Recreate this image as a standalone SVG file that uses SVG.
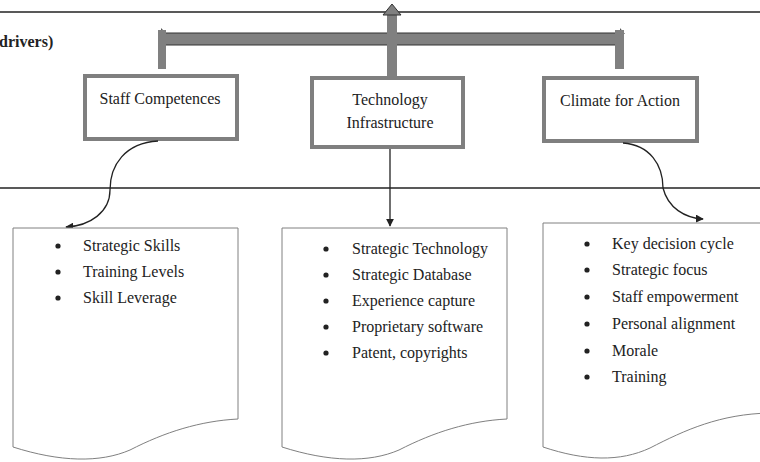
<svg xmlns="http://www.w3.org/2000/svg" width="760" height="462" viewBox="0 0 760 462">
<style>
text{font-family:"Liberation Serif","Times New Roman",serif;font-size:16px;fill:#222}
.box{fill:#fff;stroke:#7f7f7f;stroke-width:4}
.doc{fill:#fff;stroke:#808080;stroke-width:1}
.con{fill:none;stroke:#222;stroke-width:1.3}
.gray{fill:#808080}
.b{fill:#222}
</style>
<defs>
<marker id="ah" viewBox="0 0 10 10" refX="9" refY="5" markerWidth="8" markerHeight="8" markerUnits="userSpaceOnUse" orient="auto">
<path d="M0,0 L10,5 L0,10 z" fill="#222"/>
</marker>
</defs>
<rect width="760" height="462" fill="#fff"/>
<line x1="0" y1="12" x2="760" y2="12" stroke="#222" stroke-width="1.5"/>
<line x1="0" y1="188" x2="760" y2="188" stroke="#222" stroke-width="1.5"/>
<text x="-1" y="47" style="font-weight:bold">drivers)</text>

<g id="arrows-top">
<rect x="162" y="33" width="458" height="12" fill="#808080" stroke="#333" stroke-width="1"/>
<polygon points="161,28 166,33 161,33" fill="#555"/>
<polygon points="620,28 625,34 620,34" fill="#555"/>
<rect x="158" y="30" width="8" height="39" class="gray"/>
<rect x="615" y="30" width="9" height="39" class="gray"/>
<rect x="387" y="14" width="10" height="62" class="gray"/>
<polygon points="383,15 392,4 401,15" fill="#808080" stroke="#333" stroke-width="1"/>
</g>

<g id="node-staff">
<rect x="85" y="76" width="152" height="63" class="box"/>
<text x="160" y="104" text-anchor="middle">Staff Competences</text>
</g>
<g id="node-tech">
<rect x="312" y="78" width="151" height="69" class="box"/>
<text x="390" y="105" text-anchor="middle">Technology</text>
<text x="390" y="128" text-anchor="middle">Infrastructure</text>
</g>
<g id="node-climate">
<rect x="544" y="78" width="153" height="63" class="box"/>
<text x="620" y="106" text-anchor="middle">Climate for Action</text>
</g>

<g id="connectors">
<path class="con" d="M158,141 C125,143 110,165 110,190 C110,212 90,226 66,227" marker-end="url(#ah)"/>
<path class="con" d="M390,149 L390,226" marker-end="url(#ah)"/>
<path class="con" d="M623,143 C650,145 663,165 663,188 C668,208 685,218 703,219" marker-end="url(#ah)"/>
</g>

<g id="doc-staff">
<path class="doc" d="M13,228 L238,228 L238,419 C200,421 165,432 130,450 C100,463 60,462 13,447 Z"/>
<circle cx="58" cy="246" r="2.6" class="b"/><text x="83" y="251">Strategic Skills</text>
<circle cx="58" cy="272" r="2.6" class="b"/><text x="83" y="277">Training Levels</text>
<circle cx="58" cy="298" r="2.6" class="b"/><text x="83" y="303">Skill Leverage</text>
</g>
<g id="doc-tech">
<path class="doc" d="M282,228 L507,228 L507,419 C469,421 434,432 399,450 C369,463 329,462 282,447 Z"/>
<circle cx="326" cy="249" r="2.6" class="b"/><text x="352" y="254">Strategic Technology</text>
<circle cx="326" cy="275" r="2.6" class="b"/><text x="352" y="280">Strategic Database</text>
<circle cx="326" cy="301" r="2.6" class="b"/><text x="352" y="306">Experience capture</text>
<circle cx="326" cy="327" r="2.6" class="b"/><text x="352" y="332">Proprietary software</text>
<circle cx="326" cy="353" r="2.6" class="b"/><text x="352" y="358">Patent, copyrights</text>
</g>
<g id="doc-climate">
<path class="doc" d="M543,223 L770,223 L770,413 C720,414 685,430 650,448 C620,462 585,461 543,447 Z"/>
<circle cx="587" cy="244" r="2.6" class="b"/><text x="612" y="249">Key decision cycle</text>
<circle cx="587" cy="270" r="2.6" class="b"/><text x="612" y="275">Strategic focus</text>
<circle cx="587" cy="297" r="2.6" class="b"/><text x="612" y="302">Staff empowerment</text>
<circle cx="587" cy="324" r="2.6" class="b"/><text x="612" y="329">Personal alignment</text>
<circle cx="587" cy="351" r="2.6" class="b"/><text x="612" y="356">Morale</text>
<circle cx="587" cy="377" r="2.6" class="b"/><text x="612" y="382">Training</text>
</g>
</svg>
